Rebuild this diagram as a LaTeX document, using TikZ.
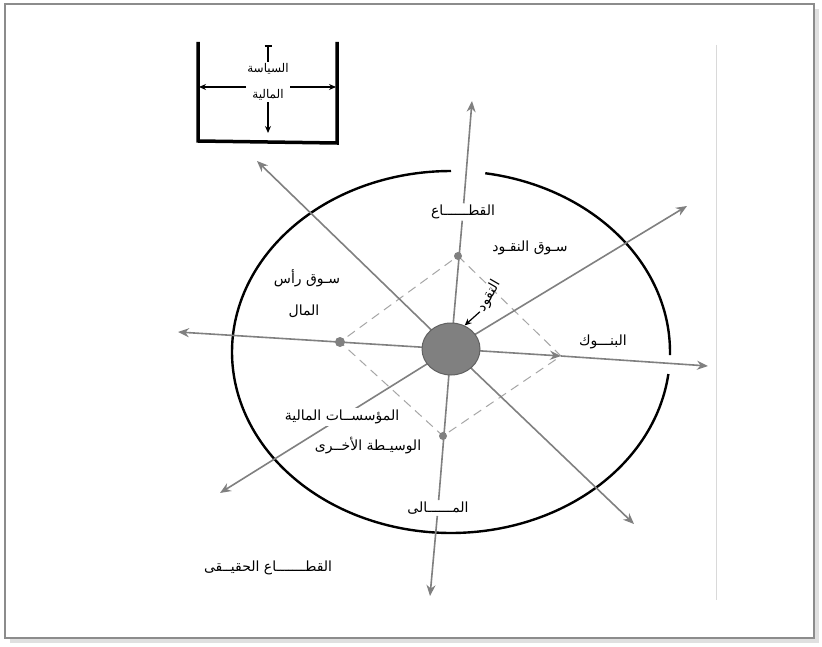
\documentclass[tikz,border=0pt]{standalone}
\usepackage{fontspec}
\newfontfamily\arabicfont[Script=Arabic]{DejaVu Sans}
\TeXXeTstate=1
\usetikzlibrary{arrows.meta,shapes.geometric}
\begin{document}
\begin{tikzpicture}[x=1pt,y=-1pt,
  axisline/.style={draw=black!50, line width=1.6pt},
  axisarrow/.style={axisline, -{Stealth[length=11pt,width=9pt]}},
  lbl/.style={font=\arabicfont\fontsize{14}{16}\selectfont, text=black, inner sep=1.5pt},
  wlbl/.style={lbl, fill=white},
  boxlbl/.style={lbl, font=\arabicfont\fontsize{12}{14}\selectfont},
  dotnode/.style={circle, fill=black!50, inner sep=0pt, minimum size=8pt},
  diamondline/.style={draw=black!35, line width=1pt, dash pattern=on 9pt off 6pt},
  boxline/.style={draw=black, line width=3.5pt},
  ringline/.style={draw=black, line width=2.4pt},
  smallarrow/.style={draw=black, line width=1.2pt, -{Stealth[length=7pt,width=6pt]}}
]
\useasboundingbox (0,0) rectangle (822,647);
% frame with shadow
\fill[black!12] (10,9) rectangle (819,643);
\fill[white, draw=black!45, line width=1.2pt] (5,4) rectangle (814,638);
\draw[black!15, line width=0.8pt] (716,45) -- (716,600);

% box
\draw[boxline] (198,42) -- (198,141) -- (337,143) -- (337,42);
\node[boxlbl] (pol1) at (268,69) {\beginR السياسة\endR};
\node[boxlbl] (pol2) at (268,95) {\beginR المالية\endR};
\coordinate (aL) at (246,87);
\coordinate (aR) at (290,87);
\coordinate (bL) at (199,87);
\coordinate (bR) at (336,87);
\coordinate (bB) at (268,133);
\coordinate (bT) at (268,45);
\draw[smallarrow] (aL) -- (bL);
\draw[smallarrow] (aR) -- (bR);
\draw[smallarrow] (pol2) -- (bB);
\draw[black, line width=1.2pt, -{Bar[width=7pt,line width=1.6pt]}] (pol1) -- (bT);

% ring with gaps
\draw[ringline] plot[domain=7:270, samples=120, smooth] ({451+219*cos(\x)},{352+181*sin(\x)});
\draw[ringline] plot[domain=279:361, samples=60, smooth] ({451+219*cos(\x)},{352+181*sin(\x)});

% centre and tips
\coordinate (cc) at (451,349);
\coordinate (tN) at (472,101);
\coordinate (tS) at (430,596);
\coordinate (tW) at (178,332);
\coordinate (tE) at (708,366);
\coordinate (tNW) at (257,161);
\coordinate (tSE) at (634,524);
\coordinate (tNE) at (687,206);
\coordinate (tSW) at (220,493);
\coordinate (dR) at (561,356);

% labels on axes
\node[lbl] (lq) at (463,212) {\beginR القطــــــاع\endR};
\node[lbl] (ms) at (438,508) {\beginR المــــــالى\endR};

% diamond (dashed)
\coordinate (pT) at (458,256);
\coordinate (pL) at (340,342);
\coordinate (pB) at (443,436);
\draw[diamondline] (pT) -- (dR) -- (pB) -- (pL) -- cycle;

% axes
\draw[axisline] (cc) -- (lq);
\draw[axisarrow] (lq) -- (tN);
\draw[axisline] (cc) -- (ms);
\draw[axisarrow] (ms) -- (tS);
\draw[axisarrow] (cc) -- (tW);
\draw[axisarrow] (cc) -- (dR);
\draw[axisarrow] (dR) -- (tE);
\draw[axisarrow] (cc) -- (tNW);
\draw[axisarrow] (cc) -- (tSE);
\draw[axisarrow] (cc) -- (tNE);
\draw[axisarrow] (cc) -- (tSW);

% dots and centre blob
\node[dotnode] (dT) at (pT) {};
\node[dotnode, minimum size=10pt] (dL) at (pL) {};
\node[dotnode] (dB) at (pB) {};
\node[ellipse, fill=black!50, draw=black!62, line width=1pt, minimum width=58pt, minimum height=52pt, inner sep=0pt] (c) at (cc) {};

% other labels
\node[lbl] (money) at (530,248) {\beginR سـوق النقـود\endR};
\node[lbl] (cap1) at (307,278) {\beginR سـوق رأس\endR};
\node[lbl] (cap2) at (304,311) {\beginR المال\endR};
\node[lbl] (banks) at (603,342) {\beginR البنـــوك\endR};
\node[wlbl] (inst1) at (342,417) {\beginR المؤسســات المالية\endR};
\node[wlbl] (inst2) at (368,446) {\beginR الوسيـطة الأخــرى\endR};
\node[lbl] (real) at (268,568) {\beginR القطـــــــاع الحقيــقى\endR};
\node[lbl, rotate=60] (nq) at (489,296) {\beginR النقود\endR};
\draw[smallarrow] (nq.west) -- (c.60);
\end{tikzpicture}
\end{document}
